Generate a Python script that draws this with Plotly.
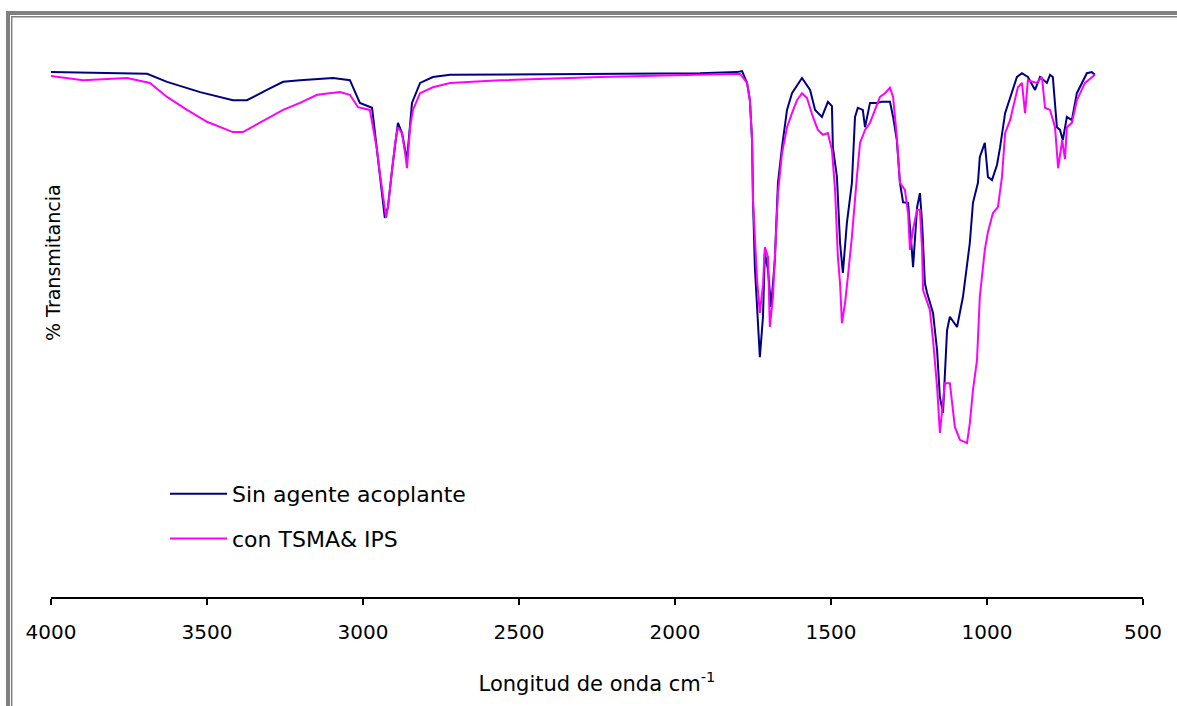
import plotly.graph_objects as go

# ---- data (wavenumber cm-1, % transmittance) ----
wn_sin = [4000, 3692, 3628, 3522, 3417, 3372, 3308, 3256, 3202, 3096, 3042, 3010, 2971, 2955, 2946,
          2930, 2920, 2907, 2888, 2875, 2859, 2843, 2817, 2776, 2721, 2240, 1920, 1801, 1785, 1769,
          1760, 1753, 1750, 1744, 1734, 1728, 1718, 1712, 1702, 1692, 1680, 1670, 1657, 1641, 1625,
          1593, 1567, 1551, 1529, 1510, 1497, 1494, 1481, 1471, 1462, 1449, 1433, 1423, 1414, 1398,
          1391, 1375, 1353, 1337, 1311, 1301, 1289, 1279, 1269, 1253, 1241, 1237, 1224, 1215, 1208,
          1199, 1192, 1173, 1160, 1151, 1141, 1128, 1119, 1096, 1077, 1064, 1055, 1045, 1029, 1023,
          1007, 997, 984, 968, 958, 942, 926, 904, 888, 869, 846, 830, 808, 798, 789, 776, 766, 757,
          744, 728, 712, 696, 680, 664, 654]
t_sin = [97.2, 96.9, 95.4, 93.5, 92.0, 92.0, 93.9, 95.4, 95.7, 96.1, 95.7, 91.5, 90.6, 82.8, 78.5,
         70.2, 72.2, 79.1, 87.8, 85.9, 80.9, 91.5, 95.2, 96.3, 96.7, 96.9, 97.0, 97.2, 97.4, 95.2,
         92.0, 84.6, 73.5, 61.1, 51.9, 44.4, 51.9, 63.7, 60.6, 53.7, 62.4, 76.7, 83.3, 90.2, 93.3,
         96.1, 93.9, 90.2, 88.9, 91.7, 90.9, 83.3, 77.8, 65.6, 60.0, 69.3, 76.7, 88.9, 90.6, 90.2,
         87.0, 91.5, 91.5, 91.7, 91.7, 88.9, 84.6, 76.7, 73.1, 73.0, 64.3, 61.1, 72.2, 74.8, 69.3,
         58.1, 56.3, 52.6, 45.7, 37.0, 34.1, 49.4, 51.9, 50.0, 55.6, 61.1, 65.6, 73.0, 76.7, 81.5,
         84.1, 77.8, 77.2, 80.0, 83.3, 89.6, 92.6, 96.3, 97.0, 96.3, 93.9, 96.3, 95.2, 96.7, 96.3,
         87.0, 86.5, 84.6, 88.9, 88.3, 93.3, 95.2, 97.0, 97.2, 96.7]

wn_con = [4000, 3897, 3756, 3683, 3628, 3564, 3500, 3417, 3385, 3330, 3256, 3202, 3147, 3074, 3042,
          3016, 2978, 2968, 2955, 2946, 2936, 2926, 2920, 2907, 2897, 2888, 2875, 2865, 2859, 2849,
          2840, 2817, 2776, 2721, 2561, 2240, 1920, 1792, 1769, 1760, 1753, 1750, 1737, 1728, 1718,
          1712, 1702, 1696, 1686, 1680, 1670, 1657, 1641, 1625, 1609, 1593, 1577, 1558, 1542, 1526,
          1510, 1497, 1487, 1478, 1471, 1465, 1455, 1446, 1433, 1417, 1407, 1391, 1375, 1359, 1343,
          1327, 1311, 1301, 1289, 1279, 1263, 1253, 1247, 1237, 1224, 1215, 1208, 1205, 1183, 1173,
          1160, 1151, 1135, 1119, 1103, 1087, 1064, 1055, 1045, 1032, 1023, 1007, 997, 981, 965,
          952, 942, 926, 910, 901, 888, 878, 869, 840, 824, 814, 798, 782, 772, 759, 750, 744, 728,
          712, 686, 664, 654]
t_con = [96.5, 95.7, 96.1, 95.2, 92.6, 90.2, 88.0, 86.1, 86.1, 87.8, 90.2, 91.5, 93.0, 93.5, 93.0,
         90.7, 90.2, 87.0, 82.8, 78.5, 74.8, 70.2, 72.2, 79.1, 84.1, 87.0, 85.9, 82.2, 79.4, 87.0,
         90.2, 93.3, 94.4, 95.2, 95.7, 96.3, 96.7, 96.9, 95.2, 92.0, 84.6, 73.5, 58.7, 52.6, 57.8,
         64.8, 63.0, 50.0, 55.6, 63.0, 74.8, 82.2, 87.0, 89.6, 92.0, 93.3, 92.4, 88.9, 86.5, 85.6,
         85.9, 82.8, 75.4, 63.0, 58.1, 50.7, 54.4, 59.3, 66.7, 77.8, 84.1, 86.5, 87.8, 90.2, 92.6,
         93.3, 94.3, 92.6, 85.2, 76.7, 75.4, 71.1, 64.3, 68.1, 71.7, 71.7, 64.3, 56.9, 53.1, 47.6,
         38.9, 30.4, 39.6, 39.6, 31.5, 29.1, 28.5, 32.2, 38.3, 43.9, 55.6, 64.3, 67.6, 71.1, 72.2,
         77.8, 85.9, 88.3, 92.0, 94.4, 95.2, 89.6, 95.7, 95.2, 96.3, 90.6, 90.2, 87.0, 79.4, 84.6,
         81.1, 87.0, 87.8, 92.0, 95.2, 96.3, 96.7]

x_ticks = [4000, 3500, 3000, 2500, 2000, 1500, 1000, 500]
series_names = ["Sin agente acoplante", "con TSMA& IPS"]
x_title = "Longitud de onda cm<sup>-1</sup>"
y_title = "% Transmitancia"

FONT = "DejaVu Sans, Verdana, sans-serif"

fig = go.Figure()
fig.add_trace(go.Scatter(x=wn_sin, y=t_sin, mode="lines", name=series_names[0],
                         line=dict(color="#000080", width=2), legendgroup="a"))
fig.add_trace(go.Scatter(x=wn_con, y=t_con, mode="lines", name=series_names[1],
                         line=dict(color="#FF00FF", width=2), legendgroup="b"))

# plot area geometry: x 51..1143 px, y 57..597 px
L, R, T, B = 51, 34, 57, 109
W, H = 1177, 706
pw, ph = W - L - R, H - T - B

def px2paper_x(px):
    return (px - L) / pw

def py2paper_y(py):
    return (H - B - py) / ph

fig.update_layout(
    width=W, height=H,
    margin=dict(l=L, r=R, t=T, b=B, pad=0),
    paper_bgcolor="white", plot_bgcolor="white",
    font=dict(family=FONT, size=20, color="#000000"),
    showlegend=True,
    legend=dict(x=px2paper_x(165), y=py2paper_y(473), xanchor="left", yanchor="top",
                bgcolor="rgba(0,0,0,0)", font=dict(size=22), tracegroupgap=13,
                itemwidth=57),
    xaxis=dict(range=[4000, 500], tickvals=x_ticks, ticktext=[str(v) for v in x_ticks],
               showline=True, linecolor="#000000", linewidth=2, ticks="outside",
               ticklen=6, tickwidth=2, tickcolor="#000000", showgrid=False, zeroline=False,
               ticklabelstandoff=10, tickfont=dict(size=20),
               title=dict(text=x_title, font=dict(size=21), standoff=33)),
    yaxis=dict(range=[0, 100], showline=False, showgrid=False, zeroline=False,
               showticklabels=False, ticks=""),
    annotations=[dict(text=y_title, textangle=-90, xref="paper", yref="paper",
                      x=px2paper_x(53), y=py2paper_y(263), xanchor="center", yanchor="middle",
                      showarrow=False, font=dict(size=19))],
)

# window frame (gray double border at left and top)
gray = "#808080"
frame = [
    (px2paper_x(8), py2paper_y(706), px2paper_x(8), py2paper_y(11), 4),
    (px2paper_x(6), py2paper_y(13), px2paper_x(1177), py2paper_y(13), 4),
    (px2paper_x(11.7), py2paper_y(706), px2paper_x(11.7), py2paper_y(16), 1.5),
    (px2paper_x(11), py2paper_y(16.7), px2paper_x(1177), py2paper_y(16.7), 1.5),
]
for x0, y0, x1, y1, w in frame:
    fig.add_shape(type="line", xref="paper", yref="paper", x0=x0, y0=y0, x1=x1, y1=y1,
                  line=dict(color=gray, width=w), layer="above")

fig.write_html("out.html")
